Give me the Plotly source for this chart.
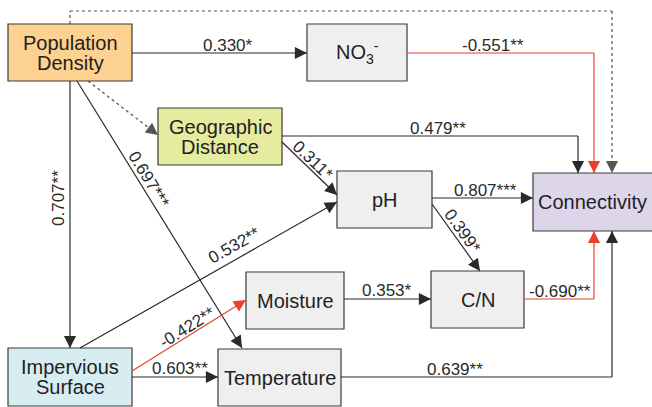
import math
import plotly.graph_objects as go

# ---------------- data ----------------
node_ids = ["PD", "NO3", "GD", "PH", "CONN", "MOIST", "CN", "IMP", "TEMP"]
node_labels = ["Population\nDensity", "NO<sub>3</sub><sup>-</sup>", "Geographic\nDistance", "pH",
               "Connectivity", "Moisture", "C/N", "Impervious\nSurface", "Temperature"]

edge_from = ["PD", "NO3", "PD", "GD", "PD", "PD", "PD", "GD", "IMP", "IMP", "IMP", "MOIST", "PH", "PH", "CN", "TEMP"]
edge_to = ["NO3", "CONN", "CONN", "CONN", "GD", "TEMP", "IMP", "PH", "PH", "MOIST", "TEMP", "CN", "CONN", "CN", "CONN", "CONN"]
edge_coef = [0.330, -0.551, None, 0.479, None, 0.697, 0.707, 0.311, 0.532, -0.422, 0.603, 0.353, 0.807, 0.399, -0.690, 0.639]
edge_sig = ["*", "**", "", "**", "", "***", "**", "*", "**", "**", "**", "*", "***", "*", "**", "**"]
edge_significant = [True, True, False, True, False, True, True, True, True, True, True, True, True, True, True, True]

# ---------------- layout (pixel canvas) ----------------
W, H = 652, 407
box = {
    "PD": (8, 24, 132, 81),
    "NO3": (307, 24, 407, 81),
    "GD": (158, 108, 282, 165),
    "PH": (337, 171, 432, 228),
    "CONN": (533, 173, 662, 231),
    "MOIST": (246, 272, 344, 329),
    "CN": (431, 271, 524, 328),
    "IMP": (8, 348, 132, 406),
    "TEMP": (218, 349, 341, 406),
}
fill = {
    "PD": "#FDD18F", "NO3": "#EFEFEF", "GD": "#E5EC9F", "PH": "#EFEFEF",
    "CONN": "#DDD6EB", "MOIST": "#EFEFEF", "CN": "#EFEFEF", "IMP": "#D7EDF2", "TEMP": "#EFEFEF",
}
text_cx = {"CONN": 592}

paths = [
    [(132, 53), (307, 53)],
    [(407, 53), (594, 53), (594, 173)],
    [(70, 24), (70, 11), (612, 11), (612, 173)],
    [(282, 136), (578, 136), (578, 173)],
    [(88, 81), (158, 135)],
    [(77, 81), (242, 348)],
    [(70, 81), (70, 348)],
    [(282, 142), (337, 195)],
    [(80, 348), (337, 202)],
    [(132, 371), (246, 300)],
    [(132, 377), (218, 377)],
    [(344, 299), (431, 299)],
    [(432, 198), (533, 198)],
    [(432, 204), (480, 271)],
    [(524, 299), (594, 299), (594, 231)],
    [(341, 377), (612, 377), (612, 231)],
]
label_pos = [
    (228, 45, 0), (493, 45, 0), None, (438, 128, 0), None,
    (149, 179, 58.5), (58, 198, -90), (313, 160, 44), (234, 245, -29.5),
    (187, 327, -32), (180, 368, 0), (387, 290, 0), (485, 190, 0),
    (463, 231, 54.5), (560, 291, 0), (455, 369, 0),
]

DARK = "#2a2a2a"
RED = "#E8412C"
GRAY = "#555555"
FONT = "Liberation Sans, Arial, sans-serif"

fig = go.Figure()
shapes = []
annotations = []

# edges
for i in range(len(edge_from)):
    pts = paths[i]
    neg = edge_coef[i] is not None and edge_coef[i] < 0
    color = RED if neg else (DARK if edge_significant[i] else GRAY)
    dash = "solid" if edge_significant[i] else "dot"
    for (x0, y0), (x1, y1) in zip(pts[:-1], pts[1:]):
        shapes.append(dict(type="line", xref="x", yref="y", x0=x0, y0=y0, x1=x1, y1=y1,
                           line=dict(color=color, width=1.2, dash=dash), layer="above"))
    (xa, ya), (xb, yb) = pts[-2], pts[-1]
    L = math.hypot(xb - xa, yb - ya)
    ux, uy = (xb - xa) / L, (yb - ya) / L
    annotations.append(dict(x=xb, y=yb, xref="x", yref="y", ax=-ux * 9, ay=-uy * 9,
                            axref="pixel", ayref="pixel", showarrow=True, arrowhead=2,
                            arrowsize=2.2, arrowwidth=1.1, arrowcolor=color, text="", standoff=0))
    if label_pos[i] is not None and edge_coef[i] is not None:
        lx, ly, ang = label_pos[i]
        annotations.append(dict(x=lx, y=ly, xref="x", yref="y", showarrow=False,
                                text=f"{edge_coef[i]:.3f}{edge_sig[i]}", textangle=ang,
                                font=dict(family=FONT, size=17, color=DARK)))

# nodes
for nid, lab in zip(node_ids, node_labels):
    x0, y0, x1, y1 = box[nid]
    shapes.append(dict(type="rect", xref="x", yref="y", x0=x0, y0=y0, x1=x1, y1=y1,
                       fillcolor=fill[nid], line=dict(color="#3a3a3a", width=1.2), layer="below"))
    cx = text_cx.get(nid, (x0 + x1) / 2)
    cy = (y0 + y1) / 2
    lines = lab.split("\n")
    n = len(lines)
    for k, t in enumerate(lines):
        yy = cy + (k - (n - 1) / 2) * 20
        annotations.append(dict(x=cx, y=yy, xref="x", yref="y", showarrow=False, text=t,
                                font=dict(family=FONT, size=20, color="#222222")))

fig.update_layout(
    width=W, height=H, margin=dict(l=0, r=0, t=0, b=0),
    paper_bgcolor="white", plot_bgcolor="white",
    xaxis=dict(range=[0, W], visible=False, fixedrange=True),
    yaxis=dict(range=[H, 0], visible=False, fixedrange=True),
    shapes=shapes, annotations=annotations, showlegend=False,
)
fig.write_html("out.html", config={"displayModeBar": False},
               post_script="document.body.style.margin='0';document.body.style.overflow='hidden';")
